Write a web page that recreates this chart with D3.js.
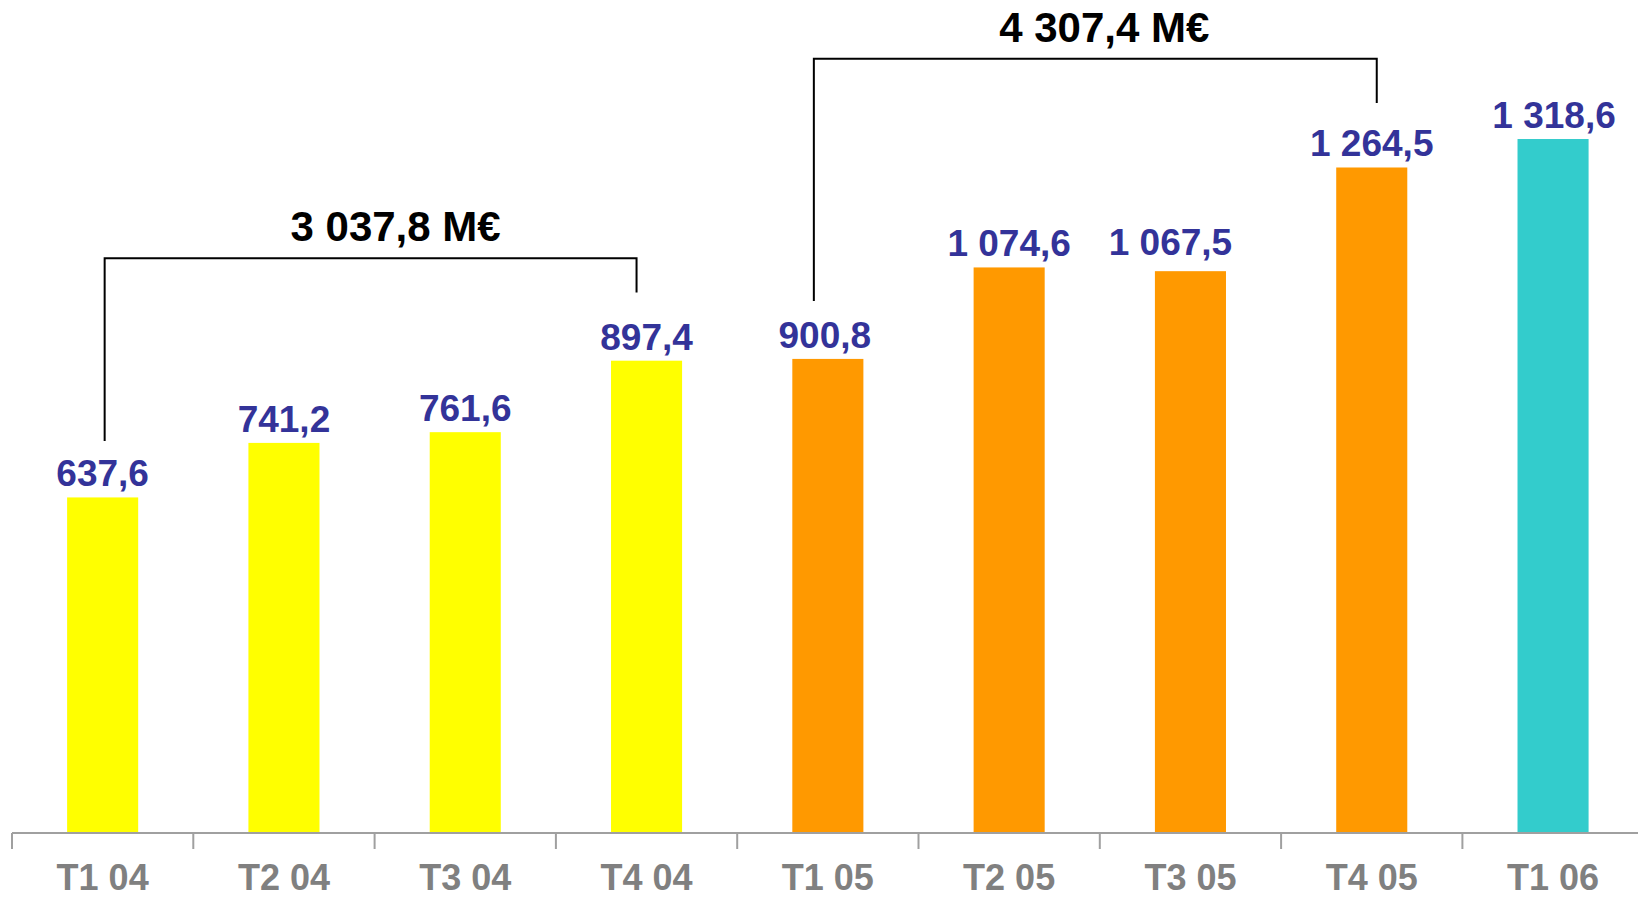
<!DOCTYPE html>
<html>
<head>
<meta charset="utf-8">
<script src="https://cdn.jsdelivr.net/npm/d3@7"></script>
<style>
  body { margin: 0; background: #fff; }
  svg { display: block; font-family: "Liberation Sans", Arial, sans-serif; }
</style>
</head>
<body>
<svg id="chart" width="1638" height="898"></svg>
<script>
const categories = ["T1 04", "T2 04", "T3 04", "T4 04", "T1 05", "T2 05", "T3 05", "T4 05", "T1 06"];
const values = [637.6, 741.2, 761.6, 897.4, 900.8, 1074.6, 1067.5, 1264.5, 1318.6];
const valueLabels = ["637,6", "741,2", "761,6", "897,4", "900,8", "1 074,6", "1 067,5", "1 264,5", "1 318,6"];
const barColors = ["#ffff00", "#ffff00", "#ffff00", "#ffff00", "#ff9900", "#ff9900", "#ff9900", "#ff9900", "#33cccc"];
// the 1 067,5 label sits a bit left and higher in the original
const labelShift = [[0, 0], [0, 0], [0, 0], [0, 0], [-3, 0], [0, 0], [-20, -5], [0, 0], [1, 0]];

// yearly totals drawn as brackets: from category, to category, label
const totals = [
  {from: 0, to: 3, label: "3 037,8 M€", top: 1092, lowFrom: 745, lowTo: 1027, dxFrom: 2, dxTo: -10, dxText: 25},
  {from: 4, to: 7, label: "4 307,4 M€", top: 1471, lowFrom: 1011, lowTo: 1387, dxFrom: -14, dxTo: 5, dxText: 9}
];

const svg = d3.select("#chart");
const baseY = 833;

const x = d3.scaleBand()
  .domain(categories)
  .range([12, 12 + 9 * 181.3])
  .paddingInner(0.608)
  .paddingOuter(0.304);

const y = d3.scaleLinear()
  .domain([0, 1400])
  .range([baseY, baseY - 1400 * 0.5263]);

const cx = c => x(c) + x.bandwidth() / 2;

// bars
svg.append("g").selectAll("rect")
  .data(values)
  .join("rect")
  .attr("x", (d, i) => x(categories[i]))
  .attr("y", d => y(d))
  .attr("width", x.bandwidth())
  .attr("height", d => y(0) - y(d))
  .attr("fill", (d, i) => barColors[i]);

// value labels
svg.append("g").selectAll("text")
  .data(values)
  .join("text")
  .attr("x", (d, i) => cx(categories[i]) + labelShift[i][0])
  .attr("y", (d, i) => y(d) - 11 + labelShift[i][1])
  .attr("text-anchor", "middle")
  .attr("font-size", 37)
  .attr("font-weight", "bold")
  .attr("fill", "#333399")
  .text((d, i) => valueLabels[i]);

// x axis: line + ticks between categories
const step = x.step();
const axis = svg.append("g");
axis.append("line")
  .attr("x1", 12).attr("x2", 1638)
  .attr("y1", baseY).attr("y2", baseY)
  .attr("stroke", "#a0a0a0").attr("stroke-width", 2);
axis.selectAll("line.tick")
  .data(d3.range(categories.length + 1))
  .join("line")
  .attr("class", "tick")
  .attr("x1", i => 12 + i * step).attr("x2", i => 12 + i * step)
  .attr("y1", baseY).attr("y2", baseY + 16)
  .attr("stroke", "#a0a0a0").attr("stroke-width", 2);
axis.selectAll("text")
  .data(categories)
  .join("text")
  .attr("x", d => cx(d))
  .attr("y", 890)
  .attr("text-anchor", "middle")
  .attr("font-size", 36)
  .attr("font-weight", "bold")
  .attr("fill", "#808080")
  .text(d => d);

// total brackets
const br = svg.append("g");
totals.forEach(t => {
  const x1 = cx(categories[t.from]) + t.dxFrom;
  const x2 = cx(categories[t.to]) + t.dxTo;
  br.append("path")
    .attr("d", `M${x1},${y(t.lowFrom)}V${y(t.top)}H${x2}V${y(t.lowTo)}`)
    .attr("fill", "none")
    .attr("stroke", "#000")
    .attr("stroke-width", 2);
  br.append("text")
    .attr("x", (x1 + x2) / 2 + t.dxText)
    .attr("y", y(t.top) - 17)
    .attr("text-anchor", "middle")
    .attr("font-size", 42)
    .attr("font-weight", "bold")
    .attr("fill", "#000")
    .text(t.label);
});
</script>
</body>
</html>
